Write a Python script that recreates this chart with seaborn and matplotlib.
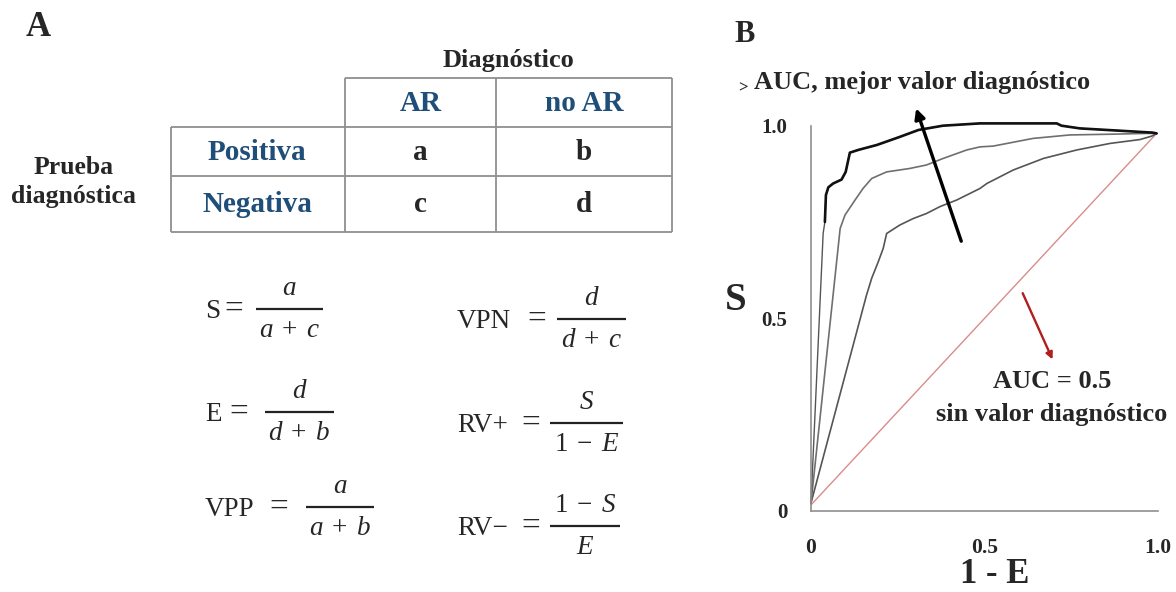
import matplotlib
matplotlib.use("Agg")
import matplotlib.pyplot as plt
import pandas as pd
import seaborn as sns

# ---------------------------------------------------------------------------
# Data
# ---------------------------------------------------------------------------
# ROC curves: x = 1 - E (1 - especificidad), y = S (sensibilidad)
fpr_best = [0.0, 0.035, 0.040, 0.043, 0.050, 0.064, 0.088, 0.100, 0.112, 0.136,
            0.190, 0.256, 0.310, 0.380, 0.487, 0.600, 0.708, 0.722, 0.775,
            0.890, 0.985, 0.996]
tpr_best = [0.02, 0.72, 0.75, 0.82, 0.84, 0.85, 0.86, 0.88, 0.93, 0.937,
            0.950, 0.971, 0.989, 1.000, 1.006, 1.006, 1.006, 1.000, 0.993,
            0.987, 0.982, 0.980]

fpr_mid = [0.0, 0.084, 0.098, 0.130, 0.150, 0.175, 0.218, 0.285, 0.333, 0.381,
           0.449, 0.487, 0.525, 0.640, 0.746, 0.870, 0.967, 0.996]
tpr_mid = [0.02, 0.733, 0.768, 0.811, 0.837, 0.863, 0.880, 0.889, 0.898, 0.915,
           0.937, 0.945, 0.947, 0.967, 0.976, 0.978, 0.980, 0.980]

fpr_low = [0.0, 0.160, 0.175, 0.194, 0.208, 0.218, 0.256, 0.295, 0.333, 0.372,
           0.420, 0.487, 0.507, 0.583, 0.670, 0.766, 0.862, 0.948, 0.982, 0.996]
tpr_low = [0.02, 0.560, 0.604, 0.647, 0.681, 0.720, 0.742, 0.759, 0.772, 0.790,
           0.807, 0.837, 0.850, 0.885, 0.915, 0.937, 0.954, 0.964, 0.973, 0.980]

# AUC = 0.5 reference diagonal
fpr_chance = [0.0, 0.996]
tpr_chance = [0.015, 0.980]

tick_values = [0, 0.5, 1.0]
tick_labels = ["0", "0.5", "1.0"]

# 2x2 contingency table
col_title = "Diagnóstico"
col_headers = ["AR", "no AR"]
row_title = "Prueba\ndiagnóstica"
row_headers = ["Positiva", "Negativa"]
cell_letters = [["a", "b"], ["c", "d"]]

# Diagnostic indices: (name, numerator, denominator)
formulas = [
    ("S", r"$a$", r"$a\;+\;c$"),
    ("VPN", r"$d$", r"$d\;+\;c$"),
    ("E", r"$d$", r"$d\;+\;b$"),
    ("RV+", r"$S$", r"$1\;-\;E$"),
    ("VPP", r"$a$", r"$a\;+\;b$"),
    ("RV\u2212", r"$1\;-\;S$", r"$E$"),
]

# ---------------------------------------------------------------------------
# Style
# ---------------------------------------------------------------------------
sns.set_style("white")
plt.rcParams["font.family"] = ["Liberation Serif", "DejaVu Serif"]
plt.rcParams["mathtext.fontset"] = "custom"
plt.rcParams["mathtext.rm"] = "Liberation Serif"
plt.rcParams["mathtext.it"] = "Liberation Serif:italic"
plt.rcParams["mathtext.bf"] = "Liberation Serif:bold"

W, H = 1176, 592
fig = plt.figure(figsize=(W / 100, H / 100), dpi=100)
fig.patch.set_facecolor("white")

# Canvas in pixel units for the left panel and free text
cv = fig.add_axes([0, 0, 1, 1])
cv.set_xlim(0, W)
cv.set_ylim(H, 0)
cv.axis("off")

BLUE = "#1F4E79"
GRID = "#8f8f8f"

# Panel letters
cv.text(38, 28, "A", fontsize=25, fontweight="bold", ha="center", va="center")
cv.text(745, 34, "B", fontsize=22, fontweight="bold", ha="center", va="center")

# ---------------------------------------------------------------------------
# Panel A: contingency table
# ---------------------------------------------------------------------------
x_left, x_c1, x_c2, x_right = 171, 345, 496, 672
y_top, y_h, y_r1, y_bot = 78, 127, 176, 232
lk = dict(color=GRID, lw=1.3, solid_capstyle="butt")
cv.plot([x_c1, x_right], [y_top, y_top], **lk)
cv.plot([x_left, x_right], [y_h, y_h], **lk)
cv.plot([x_left, x_right], [y_r1, y_r1], **lk)
cv.plot([x_left, x_right], [y_bot, y_bot], **lk)
cv.plot([x_left, x_left], [y_h, y_bot], **lk)
for xv in (x_c1, x_c2, x_right):
    cv.plot([xv, xv], [y_top, y_bot], **lk)

col_centers = [(x_c1 + x_c2) / 2, (x_c2 + x_right) / 2]
row_centers = [(y_h + y_r1) / 2, (y_r1 + y_bot) / 2]

cv.text(sum(col_centers) / 2 + 6, 60, col_title, fontsize=19, fontweight="bold",
        ha="center", va="center")
for xc, lab in zip(col_centers, col_headers):
    cv.text(xc, (y_top + y_h) / 2 + 1, lab, fontsize=21, fontweight="bold",
            color=BLUE, ha="center", va="center")
for yc, lab in zip(row_centers, row_headers):
    cv.text(257, yc + 1, lab, fontsize=21, fontweight="bold", color=BLUE,
            ha="center", va="center")
for yc, row in zip(row_centers, cell_letters):
    for xc, lab in zip(col_centers, row):
        cv.text(xc, yc + 1, lab, fontsize=21, fontweight="bold",
                ha="center", va="center")
cv.text(74, 182, row_title, fontsize=18.5, fontweight="bold", ha="center",
        va="center", linespacing=1.3)

# ---------------------------------------------------------------------------
# Panel A: formulas (name = numerator / denominator)
# layout per formula: name x, '=' x, bar x0, bar x1, bar y
# ---------------------------------------------------------------------------
FS = 19.5
FS_EQ = 24
fpx = FS / 0.72
layout = [
    (205, 224, 256, 323, 309),
    (457, 527, 557, 626, 319),
    (205, 229, 265, 334, 412),
    (457, 521, 550, 623, 423),
    (205, 269, 306, 374, 507),
    (457, 521, 550, 620, 526),
]
for (name, num, den), (xn, xe, b0, b1, yb) in zip(formulas, layout):
    cv.text(xn, yb + 0.32 * fpx, name, fontsize=FS, ha="left", va="baseline")
    cv.text(xe, yb + 0.26 * FS_EQ / 0.72, "=", fontsize=FS_EQ, ha="left",
            va="baseline")
    cv.plot([b0, b1], [yb, yb], color="#222222", lw=1.6, solid_capstyle="butt")
    xm = (b0 + b1) / 2
    cv.text(xm, yb - 0.52 * fpx, num, fontsize=FS, ha="center", va="baseline")
    cv.text(xm, yb + 1.04 * fpx, den, fontsize=FS, ha="center", va="baseline")

# ---------------------------------------------------------------------------
# Panel B: ROC curves
# ---------------------------------------------------------------------------
ax = fig.add_axes([811 / W, (H - 510.7) / H, 347 / W, 385 / H])
ax.set_facecolor("none")
ax.set_xlim(0, 1)
ax.set_ylim(0, 1)

sns.lineplot(x=fpr_chance, y=tpr_chance, ax=ax, color="#D98C8C", lw=1.0)
sns.lineplot(x=fpr_low, y=tpr_low, ax=ax, sort=False, estimator=None,
             color="#555555", lw=1.2)
sns.lineplot(x=fpr_mid, y=tpr_mid, ax=ax, sort=False, estimator=None,
             color="#6f6f6f", lw=1.2)
sns.lineplot(x=fpr_best, y=tpr_best, ax=ax, sort=False, estimator=None,
             color="#555555", lw=1.0)
sns.lineplot(x=fpr_best[2:], y=tpr_best[2:], ax=ax, sort=False, estimator=None,
             color="#111111", lw=1.9)
for ln in ax.lines:
    ln.set_clip_on(False)

for side in ("top", "right"):
    ax.spines[side].set_visible(False)
for side in ("left", "bottom"):
    ax.spines[side].set_color(GRID)
    ax.spines[side].set_linewidth(1.2)

ax.set_xticks(tick_values)
ax.set_xticklabels(tick_labels)
ax.set_yticks(tick_values)
ax.set_yticklabels(tick_labels)
ax.tick_params(axis="x", direction="out", length=11.5, width=1.2, color=GRID,
               pad=8, labelsize=15.5)
ax.tick_params(axis="y", direction="out", length=10, width=1.2, color=GRID,
               pad=7, labelsize=15)
for lab in ax.get_xticklabels() + ax.get_yticklabels():
    lab.set_fontweight("bold")
ax.set_xlabel("")
ax.set_ylabel("")

# Arrows
ax.annotate("", xy=(0.303, 1.045), xytext=(0.433, 0.70),
            arrowprops=dict(arrowstyle="-|>", color="black", lw=2.4,
                            mutation_scale=15, shrinkA=0, shrinkB=0),
            annotation_clip=False)
ax.annotate("", xy=(0.696, 0.393), xytext=(0.61, 0.565),
            arrowprops=dict(arrowstyle="-|>", color="#B01E1E", lw=1.7,
                            mutation_scale=10, shrinkA=0, shrinkB=0),
            annotation_clip=False)

# Axis titles and annotations
cv.text(736, 300, "S", fontsize=28, fontweight="bold", ha="center", va="center")
cv.text(995, 591, "1 - E", fontsize=25, fontweight="bold", ha="center",
        va="bottom")
cv.text(743, 88, ">", fontsize=12, fontweight="bold", ha="center", va="center")
cv.text(754, 83, "AUC, mejor valor diagnóstico", fontsize=19, fontweight="bold",
        ha="left", va="center")
cv.text(1052, 382, "AUC = 0.5", fontsize=19, fontweight="bold",
        ha="center", va="center")
cv.text(1052, 415, "sin valor diagnóstico", fontsize=19, fontweight="bold",
        ha="center", va="center")

fig.savefig("out.png", dpi=100, facecolor="white")
